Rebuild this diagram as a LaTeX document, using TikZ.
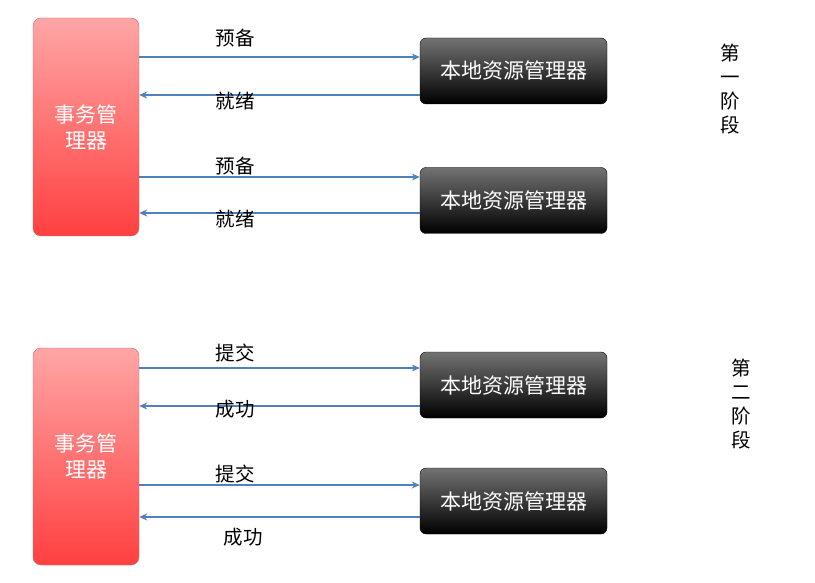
\documentclass[tikz,border=0pt]{standalone}
\usepackage{fontspec}
\newfontfamily\cjk{Noto Sans CJK SC}
\usetikzlibrary{arrows.meta}
\definecolor{arr}{HTML}{4F81BD}
\tikzset{
  tm/.style={draw=red!60!black!60, rounded corners=8pt, top color=red!35!white, bottom color=red!75!white, minimum width=106pt, inner sep=0pt, font=\cjk\fontsize{21}{26}\selectfont, text=white, align=center},
  rm/.style={draw=black, rounded corners=6pt, top color=black!55, bottom color=black, minimum width=187pt, minimum height=66pt, inner sep=0pt, font=\cjk\fontsize{21}{24}\selectfont, text=white},
  ar/.style={draw=arr, line width=1.5pt, -{Stealth[length=8pt,width=7pt]}},
  lb/.style={font=\cjk\fontsize{19.5}{22}\selectfont, inner sep=0pt},
  side/.style={font=\cjk\fontsize{19.5}{24}\selectfont, align=center, inner sep=0pt}
}
\begin{document}
\begin{tikzpicture}[x=1pt,y=-1pt]
\useasboundingbox (0,0) rectangle (815,583);
\node[tm, minimum height=218pt] (t1) at (86,127) {事务管\\理器};
\node[tm, minimum height=217pt] (t2) at (86,456.5) {事务管\\理器};
\node[rm] (r1) at (513.5,71) {本地资源管理器};
\node[rm] (r2) at (513.5,200.5) {本地资源管理器};
\node[rm] (r3) at (513.5,385) {本地资源管理器};
\node[rm] (r4) at (513.5,501) {本地资源管理器};
\draw[ar] (t1.east |- 0,57) -- (r1.west |- 0,57);
\draw[ar] (r1.west |- 0,95) -- (t1.east |- 0,95);
\draw[ar] (t1.east |- 0,177) -- (r2.west |- 0,177);
\draw[ar] (r2.west |- 0,213) -- (t1.east |- 0,213);
\draw[ar] (t2.east |- 0,368) -- (r3.west |- 0,368);
\draw[ar] (r3.west |- 0,406) -- (t2.east |- 0,406);
\draw[ar] (t2.east |- 0,485) -- (r4.west |- 0,485);
\draw[ar] (r4.west |- 0,517) -- (t2.east |- 0,517);
\node[lb] (l1) at (235,38) {预备};
\node[lb] (l2) at (235,101) {就绪};
\node[lb] (l3) at (235,166) {预备};
\node[lb] (l4) at (235,219) {就绪};
\node[lb] (l5) at (235,353) {提交};
\node[lb] (l6) at (235,409) {成功};
\node[lb] (l7) at (235,474) {提交};
\node[lb] (l8) at (243,537) {成功};
\node[side] (s1) at (730,89) {第\\一\\阶\\段};
\node[side] (s2) at (741,404) {第\\二\\阶\\段};
\end{tikzpicture}
\end{document}
